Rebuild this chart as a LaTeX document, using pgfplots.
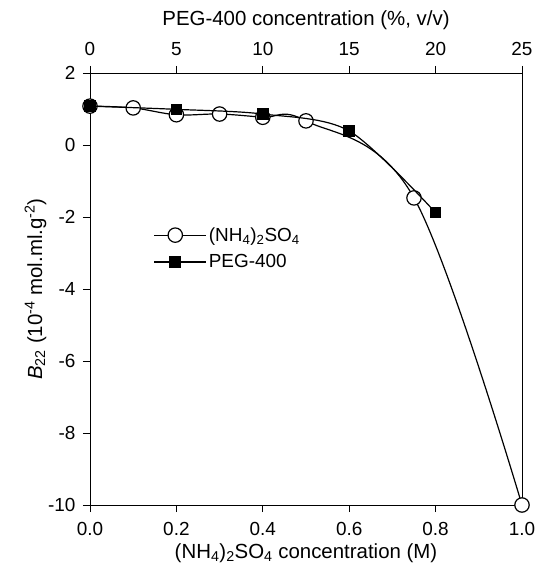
\documentclass[border=0pt]{standalone}
\usepackage{fontspec}
\setmainfont{Liberation Sans}
\usepackage{pgfplots}
\pgfplotsset{compat=1.18}
\usetikzlibrary{calc}

\pgfplotsset{
  common/.style={
    width=432bp,height=432bp,scale only axis,
    ymin=-10,ymax=2,
    tick align=outside,
    major tick length=7bp,
    tick style={black,line width=0.8bp},
    axis line style={line width=0.8bp},
    /pgf/number format/assume math mode=true,
    tick label style={font=\fontsize{19}{22}\selectfont},
    label style={font=\fontsize{20.5}{24}\selectfont},
    xticklabel shift=7bp,
    yticklabel shift=4bp,
  },
  mylegend/.style={
    legend image code/.code={
      \path (0bp,0bp) -- (52bp,0bp);
      \draw[##1,mark=none] (0bp,0bp) -- (42bp,0bp);
      \draw[##1,only marks] plot coordinates {(21bp,0bp)};
    }
  }
}

\begin{document}
\begin{tikzpicture}
% bottom axis: ammonium sulfate
\begin{axis}[common,name=ax,
  xmin=0,xmax=1,
  xtick={0,0.2,...,1.0},
  xticklabel style={/pgf/number format/.cd,fixed,fixed zerofill,precision=1},
  ytick={-10,-8,...,2},
  xtick pos=bottom,ytick pos=left,
  xlabel={(NH\textsubscript{4})\textsubscript{2}SO\textsubscript{4} concentration (M)},
  ylabel={\textit{B}\textsubscript{22} (10\textsuperscript{-4} mol.ml.g\textsuperscript{-2})},
  xlabel style={yshift=-1bp},
  ylabel style={yshift=-5bp},
]
\addplot[black,line width=1.2bp,smooth,tension=0.6,mark=*,mark size=7.2bp,
  mark options={fill=white,line width=1.2bp}]
  coordinates {(0,1.08)(0.1,1.03)(0.2,0.84)(0.3,0.86)(0.4,0.77)(0.5,0.67)(0.75,-1.47)(1.0,-10)};
\end{axis}
% top axis: PEG-400
\begin{axis}[common,mylegend,
  xmin=0,xmax=25,
  axis x line*=top,axis y line=none,
  xtick={0,5,...,25},
  xlabel={PEG-400 concentration (\%, v/v)},
  xlabel style={yshift=6bp},
  legend style={at={(0.14,0.652)},anchor=north west,draw=none,fill=none,
    font=\fontsize{19}{22}\selectfont,row sep=8bp},
  legend cell align=left,
]
\addlegendimage{black,line width=1.2bp,mark=*,mark size=7.2bp,mark options={fill=white,line width=1.2bp}}
\addlegendentry{(NH\textsubscript{4})\textsubscript{2}SO\textsubscript{4}}
\addplot[black,line width=1.2bp,smooth,tension=0.5,mark=square*,mark size=5.2bp]
  coordinates {(0,1.08)(5,0.99)(10,0.86)(15,0.39)(20,-1.88)};
\addlegendentry{PEG-400}
\end{axis}
\pgfresetboundingbox
\path ($(ax.south west)+(-90bp,-63bp)$) rectangle ($(ax.north east)+(14bp,73bp)$);
\end{tikzpicture}
\end{document}
